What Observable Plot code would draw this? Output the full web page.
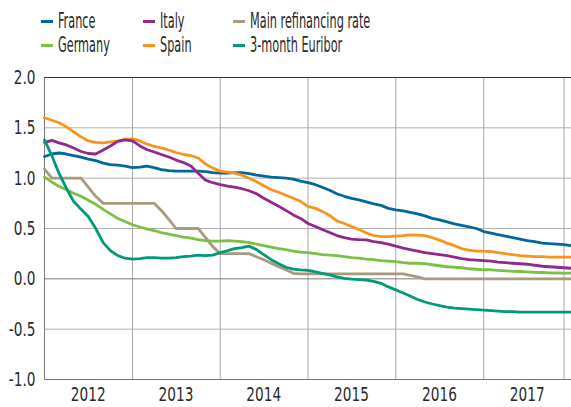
<!DOCTYPE html>
<html><head><meta charset="utf-8">
<script src="https://cdn.jsdelivr.net/npm/d3@7"></script>
<script src="https://cdn.jsdelivr.net/npm/@observablehq/plot@0.6"></script>
<style>
body{margin:0;background:#fff;width:571px;height:407px;overflow:hidden;font-family:"Liberation Sans Narrow","DejaVu Sans Condensed",sans-serif;}
#legend{position:relative;height:60px;}
.sw{position:absolute;width:12px;height:3px;}
.lbl{position:absolute;font-size:22px;line-height:1;color:#2a2a2a;transform:scaleX(0.57);transform-origin:0 0;white-space:nowrap;}
#chart svg{display:block;overflow:visible;}
</style></head>
<body>
<div id="legend"></div>
<div id="chart"></div>
<script>
// Series names and colours (legend order: column by column)
const seriesNames = ["France", "Germany", "Italy", "Spain", "Main refinancing rate", "3-month Euribor"];
const seriesColors = ["#00689e", "#7ac143", "#92278f", "#f7941d", "#a8997f", "#009a7a"];

// Monthly values, Dec 2011 ... Dec 2017 (73 months, plotted at month end)
const france = [1.215,1.24,1.25,1.24,1.225,1.21,1.19,1.175,1.15,1.135,1.13,1.12,1.105,1.11,1.12,1.105,1.085,1.075,1.07,1.07,1.07,1.07,1.065,1.055,1.05,1.05,1.055,1.055,1.045,1.03,1.02,1.01,1.005,1.0,0.99,0.97,0.955,0.935,0.91,0.88,0.845,0.82,0.80,0.785,0.765,0.745,0.73,0.70,0.685,0.675,0.66,0.645,0.625,0.60,0.585,0.565,0.545,0.53,0.515,0.50,0.47,0.455,0.44,0.425,0.41,0.395,0.38,0.37,0.355,0.35,0.345,0.34,0.33];
const germany = [1.01,0.96,0.92,0.885,0.85,0.82,0.78,0.74,0.69,0.645,0.60,0.57,0.537,0.515,0.497,0.48,0.46,0.445,0.43,0.415,0.405,0.39,0.38,0.375,0.375,0.38,0.375,0.37,0.36,0.345,0.33,0.315,0.30,0.29,0.275,0.265,0.26,0.25,0.24,0.235,0.23,0.22,0.21,0.205,0.195,0.19,0.18,0.175,0.17,0.16,0.155,0.155,0.15,0.14,0.13,0.12,0.115,0.11,0.10,0.095,0.09,0.09,0.085,0.08,0.075,0.073,0.07,0.065,0.063,0.06,0.058,0.057,0.057];
const italy = [1.355,1.375,1.35,1.33,1.30,1.265,1.245,1.24,1.28,1.32,1.365,1.38,1.37,1.32,1.285,1.26,1.235,1.21,1.18,1.155,1.12,1.05,0.98,0.955,0.935,0.92,0.91,0.895,0.875,0.845,0.80,0.76,0.72,0.68,0.635,0.60,0.55,0.52,0.49,0.46,0.43,0.41,0.395,0.39,0.388,0.37,0.36,0.345,0.325,0.305,0.29,0.275,0.26,0.25,0.24,0.23,0.215,0.20,0.19,0.185,0.18,0.175,0.165,0.16,0.155,0.15,0.145,0.135,0.125,0.12,0.115,0.11,0.105];
const spain = [1.60,1.575,1.55,1.51,1.46,1.41,1.37,1.355,1.35,1.36,1.37,1.385,1.39,1.37,1.34,1.315,1.30,1.28,1.255,1.235,1.225,1.20,1.14,1.10,1.07,1.06,1.05,1.03,1.00,0.965,0.925,0.885,0.86,0.83,0.80,0.77,0.72,0.70,0.67,0.63,0.575,0.55,0.52,0.49,0.455,0.43,0.42,0.42,0.425,0.43,0.437,0.435,0.43,0.41,0.385,0.355,0.33,0.30,0.285,0.275,0.275,0.27,0.26,0.25,0.24,0.23,0.225,0.22,0.22,0.215,0.215,0.215,0.215];
const mro = [1.09,1.0,1.0,1.0,1.0,1.0,0.91,0.82,0.75,0.75,0.75,0.75,0.75,0.75,0.75,0.75,0.68,0.59,0.5,0.5,0.5,0.5,0.41,0.32,0.25,0.25,0.25,0.25,0.25,0.22,0.19,0.155,0.12,0.09,0.055,0.05,0.05,0.05,0.05,0.05,0.05,0.05,0.05,0.05,0.05,0.05,0.05,0.05,0.05,0.05,0.035,0.02,0,0,0,0,0,0,0,0,0,0,0,0,0,0,0,0,0,0,0,0,0];
const euribor = [1.38,1.22,1.05,0.90,0.77,0.69,0.62,0.50,0.36,0.28,0.23,0.205,0.195,0.20,0.21,0.21,0.205,0.205,0.21,0.22,0.225,0.235,0.23,0.235,0.26,0.28,0.30,0.31,0.325,0.29,0.24,0.19,0.15,0.115,0.097,0.09,0.085,0.07,0.055,0.04,0.02,0.005,-0.003,-0.008,-0.012,-0.025,-0.045,-0.08,-0.11,-0.14,-0.17,-0.205,-0.23,-0.25,-0.265,-0.28,-0.29,-0.295,-0.30,-0.305,-0.31,-0.315,-0.32,-0.325,-0.325,-0.33,-0.33,-0.33,-0.33,-0.33,-0.33,-0.33,-0.33];

const yTicks = [-1.0, -0.5, 0.0, 0.5, 1.0, 1.5, 2.0];
const yearLabels = [2012, 2013, 2014, 2015, 2016, 2017];
const gridDates = ["2013-01-01","2014-01-01","2015-01-01","2016-01-01","2017-01-01","2017-12-01"];

const seriesValues = [france, germany, italy, spain, mro, euribor];
const start = new Date(Date.UTC(2012, 0, 1));
const dates = france.map((_, i) => d3.utcMonth.offset(start, i));
const rows = [];
seriesValues.forEach((arr, s) => arr.forEach((v, i) => rows.push({date: dates[i], value: v, series: seriesNames[s]})));
const drawOrder = ["Main refinancing rate", "Germany", "France", "Spain", "Italy", "3-month Euribor"];

// Legend (HTML)
const legend = document.getElementById("legend");
const colX = [41, 143, 233];
const rowY = [21, 45];
seriesNames.forEach((name, i) => {
  const c = Math.floor(i / 2), r = i % 2;
  const sw = document.createElement("div");
  sw.className = "sw";
  sw.style.left = colX[c] + "px";
  sw.style.top = (rowY[r] - 1) + "px";
  sw.style.background = seriesColors[i];
  legend.appendChild(sw);
  const lb = document.createElement("div");
  lb.className = "lbl";
  lb.textContent = name;
  lb.style.left = (colX[c] + 17) + "px";
  lb.style.top = (rowY[r] - 11) + "px";
  legend.appendChild(lb);
});

const midYears = yearLabels.map(y => new Date(Date.UTC(y, 6, 1)));
const chart = Plot.plot({
  width: 571,
  height: 347,
  marginLeft: 44,
  marginRight: 0,
  marginTop: 17,
  marginBottom: 28,
  style: {fontFamily: '"Liberation Sans Narrow","DejaVu Sans Condensed",sans-serif', fontSize: "20px", color: "#2a2a2a", background: "white"},
  x: {type: "utc", domain: [start, new Date(Date.UTC(2018, 0, 1))]},
  y: {domain: [-1, 2]},
  color: {domain: seriesNames, range: seriesColors},
  marks: [
    Plot.ruleY(yTicks.filter(d => d !== 0 && d !== 2 && d !== -1), {stroke: "#b0b0b0", strokeWidth: 1}),
    Plot.ruleX(gridDates.map(d => new Date(d)), {stroke: "#a8a8a8", strokeWidth: 1}),
    Plot.ruleY([0], {stroke: "#7a7a7a", strokeWidth: 1}),
    Plot.ruleY([-1], {stroke: "#777", strokeWidth: 1}),
    Plot.ruleY([2], {stroke: "#333", strokeWidth: 1}),
    Plot.ruleX([start], {stroke: "#777", strokeWidth: 1}),
    ...drawOrder.map(n => Plot.line(rows.filter(d => d.series === n), {x: "date", y: "value", stroke: "series", strokeWidth: 2.8})),
    Plot.axisY(yTicks, {tickSize: 0, tickPadding: 9, tickFormat: d => d.toFixed(1), label: null}),
    Plot.axisX(midYears, {tickSize: 0, tickPadding: 7, tickFormat: d => String(d.getUTCFullYear()), label: null})
  ]
});
document.getElementById("chart").appendChild(chart);
// condense tick label glyphs to resemble the narrow original typeface
chart.querySelectorAll("text").forEach(t => {
  const w = t.getComputedTextLength();
  if (w > 0) {
    t.setAttribute("textLength", (w * 0.76).toFixed(1));
    t.setAttribute("lengthAdjust", "spacingAndGlyphs");
  }
});
</script>
</body></html>
